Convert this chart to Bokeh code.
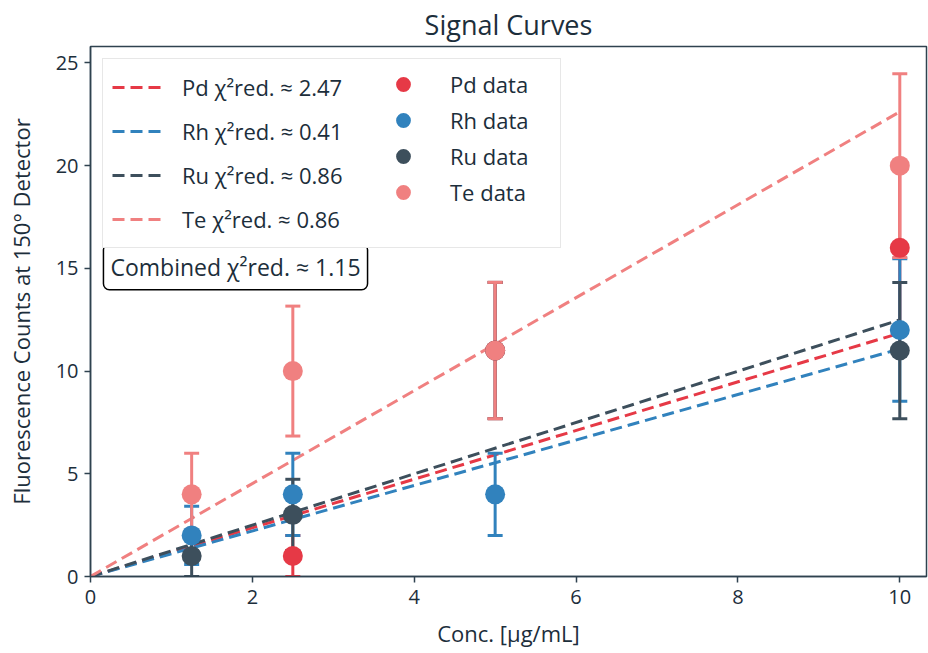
import numpy as np
from bokeh.plotting import figure
from bokeh.models import Legend, LegendItem, Label, Range1d, FixedTicker, ColumnDataSource
from bokeh.embed import file_html
from bokeh.resources import INLINE

# ---- data ----
elements = ["Pd", "Rh", "Ru", "Te"]
colors = ["#e63946", "#3182bd", "#3d4f5c", "#f08080"]
pd_conc = [2.5, 5.0, 10.0]
pd_counts = [1, 11, 16]
rh_conc = [1.25, 2.5, 5.0, 10.0]
rh_counts = [2, 4, 4, 12]
ru_conc = [1.25, 2.5, 5.0, 10.0]
ru_counts = [1, 3, 11, 11]
te_conc = [1.25, 2.5, 5.0, 10.0]
te_counts = [4, 10, 11, 20]
chi2_red = [2.47, 0.41, 0.86, 0.86]
chi2_combined = 1.15
x_ticks = [0, 2, 4, 6, 8, 10]
y_ticks = [0, 5, 10, 15, 20, 25]

concs = [pd_conc, rh_conc, ru_conc, te_conc]
counts = [pd_counts, rh_counts, ru_counts, te_counts]

FONT = "Open Sans"
TEXT = "#1c2e3b"
SPINE = "#2f424f"

p = figure(width=928, height=653, output_backend="svg", toolbar_location=None,
           x_range=Range1d(0, 10.33), y_range=Range1d(0, 25.8),
           min_border_left=90, min_border_right=2, min_border_top=44, min_border_bottom=77)
p.background_fill_color = "white"
p.border_fill_color = "white"
p.xgrid.visible = False
p.ygrid.visible = False
p.outline_line_color = SPINE
p.outline_line_width = 1.5
p.outline_line_alpha = 1.0

p.title.text = "Signal Curves"
p.title.align = "center"
p.title.text_font = FONT
p.title.text_font_size = "27px"
p.title.text_font_style = "normal"
p.title.text_color = TEXT
p.title.standoff = 7

p.xaxis.ticker = FixedTicker(ticks=x_ticks)
p.yaxis.ticker = FixedTicker(ticks=y_ticks)
p.xaxis.axis_label = "Conc. [μg/mL]"
p.yaxis.axis_label = "Fluorescence Counts at 150° Detector"
for ax in (p.xaxis[0], p.yaxis[0]):
    ax.axis_line_color = SPINE
    ax.axis_line_width = 1.5
    ax.major_tick_line_color = SPINE
    ax.major_tick_line_width = 1.5
    ax.major_tick_out = 6
    ax.major_tick_in = 0
    ax.minor_tick_line_color = None
    ax.major_label_text_font = FONT
    ax.major_label_text_font_size = "20px"
    ax.major_label_text_color = TEXT
    ax.axis_label_text_font = FONT
    ax.axis_label_text_font_size = "22px"
    ax.axis_label_text_font_style = "normal"
    ax.axis_label_text_color = TEXT
p.xaxis.major_label_standoff = 7
p.yaxis.major_label_standoff = 6
p.xaxis.axis_label_standoff = 11
p.yaxis.axis_label_standoff = 17

line_items = []
dot_items = []
# fit lines (weighted least squares through origin, sigma = sqrt(N))
for el, c, xs, ys, chi in zip(elements, colors, concs, counts, chi2_red):
    x = np.array(xs, dtype=float)
    y = np.array(ys, dtype=float)
    slope = np.sum(x) / np.sum(x ** 2 / y)
    xf = np.array([0.0, x.max()])
    r = p.line(xf, slope * xf, line_color=c, line_width=3, line_dash="12 6")
    line_items.append(LegendItem(label=f"{el} χ²red. ≈ {chi:.2f}", renderers=[r]))

# error bars (below markers)
for el, c, xs, ys in zip(elements, colors, concs, counts):
    x = np.array(xs, dtype=float)
    y = np.array(ys, dtype=float)
    err = np.sqrt(y)
    src = ColumnDataSource(dict(x=x, y=y, lo=y - err, hi=y + err))
    p.segment(x0="x", y0="lo", x1="x", y1="hi", source=src, line_color=c, line_width=3)
    p.scatter(x="x", y="lo", source=src, marker="dash", size=15, line_color=c, line_width=3)
    p.scatter(x="x", y="hi", source=src, marker="dash", size=15, line_color=c, line_width=3)

# markers
for el, c, xs, ys in zip(elements, colors, concs, counts):
    src = ColumnDataSource(dict(x=xs, y=ys))
    # legend symbol: dot with a white halo (size 0 on the plot, sized by the legend)
    key_dot = p.scatter(x="x", y="y", source=src, marker="circle", size=0,
                        fill_color=c, line_color="white", line_width=10)
    p.scatter(x="x", y="y", source=src, marker="circle", size=20,
              fill_color=c, line_color=c, line_width=0)
    dot_items.append(LegendItem(label=f"{el} data", renderers=[key_dot]))

legend_fits = Legend(items=line_items, location="top_left")
legend_fits.margin = 12
legend_fits.padding = 9
legend_fits.spacing = 6
legend_fits.glyph_width = 50
legend_fits.glyph_height = 38
legend_fits.label_height = 38
legend_fits.label_standoff = 20
legend_fits.label_width = 369
legend_fits.label_text_font = FONT
legend_fits.label_text_font_size = "22px"
legend_fits.label_text_color = TEXT
legend_fits.border_line_color = "#d0d0d0"
legend_fits.border_line_width = 1.5
legend_fits.background_fill_color = "white"
legend_fits.background_fill_alpha = 1.0
p.add_layout(legend_fits)

# one small legend per data series, stacked at 36 px intervals
for i, item in enumerate(dot_items):
    lg = Legend(items=[item], location=(282, 461 - 36 * i))
    lg.margin = 0
    lg.padding = 9
    lg.spacing = 0
    lg.glyph_width = 62
    lg.glyph_height = 62
    lg.label_height = 62
    lg.label_standoff = 16
    lg.label_text_font = FONT
    lg.label_text_font_size = "22px"
    lg.label_text_color = TEXT
    lg.border_line_color = None
    lg.background_fill_alpha = 0
    p.add_layout(lg)

combo = Label(x=0.16, y=16.2, text=f"Combined χ²red. ≈ {chi2_combined:.2f}",
              text_font=FONT, text_font_size="23px", text_color=TEXT,
              text_baseline="top", text_align="left",
              border_line_color="black", border_line_width=1.5,
              background_fill_color="white", padding=7, border_radius=6)
p.add_layout(combo)

open("out.html", "w").write(file_html(p, INLINE))
